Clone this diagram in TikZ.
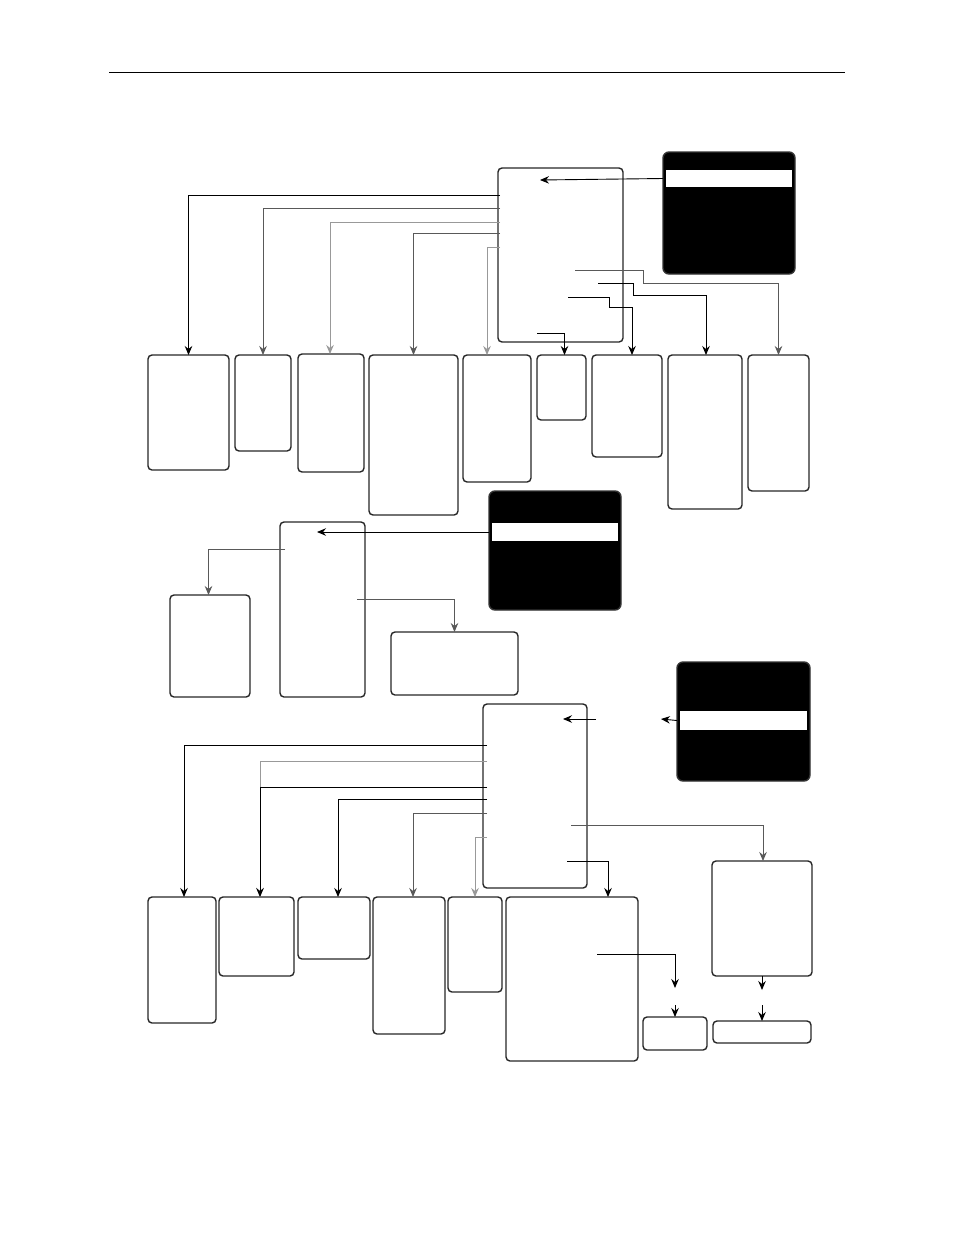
\documentclass[tikz,border=0pt]{standalone}
\usepackage{tikz}
\usetikzlibrary{positioning, arrows.meta}
\tikzstyle{arrow} = [line width=0.9pt,-{Stealth[length=9pt,width=7.5pt,inset=3pt]}]

\begin{document}
\begin{tikzpicture}[x=1pt, y=-1pt]
                \tikzstyle{menu} = [draw=black!85, line width=1.4pt, rounded corners=4pt, inner sep=0pt, outer sep=0pt]
                \tikzstyle{dark} = [draw=black!80, fill=black, line width=1.4pt, rounded corners=6pt, inner sep=0pt, outer sep=0pt]
                \tikzstyle{bar} = [fill=white, draw=none, inner sep=0pt, outer sep=0pt]
                \tikzstyle{link} = [arrow, draw=black]
                \tikzstyle{mlink} = [arrow, draw=black!65]
                \tikzstyle{glink} = [arrow, draw=black!40]
                \tikzstyle{plain} = [line width=0.9pt]

                \useasboundingbox (0,0) rectangle (954,1235);
                \draw[plain] (109,72) -- (845,72);

                % top menu
                \node[menu, minimum width=125, minimum height=174](mainmenu) at (560.5,255) {};
                \node[dark, minimum width=132, minimum height=122](screen1) at (729,213) {};
                \node[bar, minimum width=126, minimum height=17](bar1) at (729,178.5) {};

                \node[menu, minimum width=81, minimum height=115](t1) at (188.5,412.5) {};
                \node[menu, minimum width=56, minimum height=96](t2) at (263,403) {};
                \node[menu, minimum width=66, minimum height=118](t3) at (331,413) {};
                \node[menu, minimum width=89, minimum height=160](t4) at (413.5,435) {};
                \node[menu, minimum width=68, minimum height=127](t5) at (497,418.5) {};
                \node[menu, minimum width=49, minimum height=65](t6) at (561.5,387.5) {};
                \node[menu, minimum width=70, minimum height=102](t7) at (627,406) {};
                \node[menu, minimum width=74, minimum height=154](t8) at (705,432) {};
                \node[menu, minimum width=61, minimum height=136](t9) at (778.5,423) {};

                \coordinate (in1) at (540,180);
                \coordinate (a1) at (500,195);
                \coordinate (a2) at (500,208);
                \coordinate (a3) at (500,222);
                \coordinate (a4) at (500,233);
                \coordinate (a5) at (500,247);
                \coordinate (a6) at (537,333);
                \coordinate (a7) at (568,297);
                \coordinate (a8) at (598,283);
                \coordinate (a9) at (575,270);

                \draw[link] (screen1.west |- bar1) -- (in1);
                \draw[link] (a1) -| (t1.north);
                \draw[mlink] (a2) -| (t2.north);
                \draw[glink] (a3) -| ([xshift=-1]t3.north);
                \draw[mlink] (a4) -| (t4.north);
                \draw[glink] (a5) -| ([xshift=-10]t5.north);
                \draw[link] (a6) -| ([xshift=3]t6.north);
                \draw[link] (a7) -- ++(41,0) -- ++(0,10) -| ([xshift=5]t7.north);
                \draw[link] (a8) -- ++(35,0) -- ++(0,12) -| ([xshift=1]t8.north);
                \draw[mlink] (a9) -- ++(68,0) -- ++(0,13) -| (t9.north);

                % middle menu
                \node[menu, minimum width=85, minimum height=175](submenu) at (322.5,609.5) {};
                \node[dark, minimum width=132, minimum height=119](screen2) at (555,550.5) {};
                \node[bar, minimum width=126, minimum height=18](bar2) at (555,532) {};
                \node[menu, minimum width=80, minimum height=102](s1) at (210,646) {};
                \node[menu, minimum width=127, minimum height=63](s2) at (454.5,663.5) {};

                \coordinate (in2) at (317,532);
                \coordinate (c1) at (285,549);
                \coordinate (c2) at (357,599);

                \draw[link] (screen2.west |- bar2) -- (in2);
                \draw[mlink] (c1) -| ([xshift=-1.5]s1.north);
                \draw[mlink] (c2) -| (s2.north);

                % bottom menu
                \node[menu, minimum width=104, minimum height=184](setmenu) at (535,796) {};
                \node[dark, minimum width=133, minimum height=119](screen3) at (743.5,721.5) {};
                \node[bar, minimum width=127, minimum height=19](bar3) at (743.5,720.5) {};

                \node[menu, minimum width=68, minimum height=126](u1) at (182,960) {};
                \node[menu, minimum width=75, minimum height=79](u2) at (256.5,936.5) {};
                \node[menu, minimum width=72, minimum height=62](u3) at (334,928) {};
                \node[menu, minimum width=72, minimum height=137](u4) at (409,965.5) {};
                \node[menu, minimum width=54, minimum height=95](u5) at (475,944.5) {};
                \node[menu, minimum width=132, minimum height=164](u6) at (572,979) {};
                \node[menu, minimum width=100, minimum height=115](u7) at (762,918.5) {};
                \node[menu, minimum width=64, minimum height=33](u8) at (675,1033.5) {};
                \node[menu, minimum width=98, minimum height=22](u9) at (762,1032) {};

                \coordinate (g1) at (661,719);
                \coordinate (g2) at (596,719);
                \coordinate (in3) at (563,719);
                \coordinate (f1) at (487,745);
                \coordinate (f2) at (487,761);
                \coordinate (f3) at (487,787);
                \coordinate (f4) at (487,799);
                \coordinate (f5) at (487,813);
                \coordinate (f6) at (487,837);
                \coordinate (f7) at (571,825);
                \coordinate (f8) at (567,861);
                \coordinate (m1) at (597,954);
                \coordinate (m2) at (675,988);
                \coordinate (m3) at (675,1005);
                \coordinate (l1) at (762,990);
                \coordinate (l2) at (762,1005);

                \draw[link] (screen3.west |- bar3) -- (g1);
                \draw[link] (g2) -- (in3);
                \draw[link] (f1) -| ([xshift=2]u1.north);
                \draw[glink] (f2) -| ([xshift=3.5]u2.north);
                \draw[link] (f3) -| ([xshift=3.5]u2.north);
                \draw[link] (f4) -| ([xshift=4]u3.north);
                \draw[mlink] (f5) -| ([xshift=4]u4.north);
                \draw[glink] (f6) -| (u5.north);
                \draw[mlink] (f7) -| ([xshift=1]u7.north);
                \draw[link] (f8) -| ([xshift=36]u6.north);
                \draw[link] (m1) -| (m2);
                \draw[link] (m3) -- (u8.north);
                \draw[link] (u7.south) -- (l1);
                \draw[link] (l2) -- (u9.north);

        \end{tikzpicture}
\end{document}
